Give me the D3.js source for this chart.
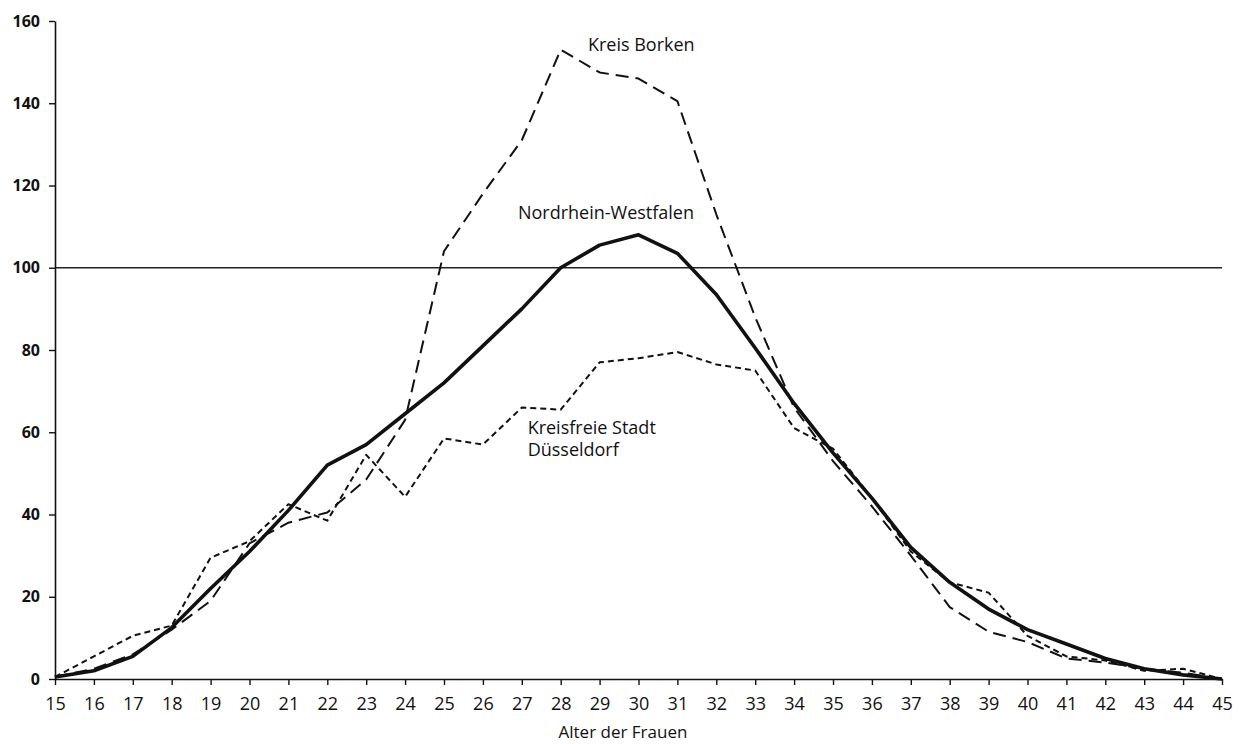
<!DOCTYPE html>
<html>
<head>
<meta charset="utf-8">
<script src="https://cdn.jsdelivr.net/npm/d3@7"></script>
<style>
  body { margin: 0; background: #fff; }
  text { font-family: "Open Sans", "Noto Sans", sans-serif; fill: #111; }
</style>
</head>
<body>
<script>
'use strict';

// Alter der Frauen
const ages = d3.range(15, 46);
const yTicks = [0, 20, 40, 60, 80, 100, 120, 140, 160];

const nrw = [0.5, 2, 5.5, 12.5, 22, 31, 41, 52, 57, 64.5, 72, 81, 90, 100, 105.5, 108,
  103.5, 93.5, 80.5, 67, 55, 44, 32, 23.5, 17, 12, 8.5, 5, 2.5, 1, 0];
const borken = [0.5, 2.5, 6, 12, 19, 33, 38, 40.5, 48.5, 63, 104, 118, 131, 153, 147.5, 146,
  140.5, 113, 88, 66, 53, 42, 30, 17.5, 11.5, 9, 5, 4, 2.5, 1.5, 0];
const duesseldorf = [0.5, 5.5, 10.5, 13, 29.5, 33.5, 42.5, 38.5, 54.5, 44.3, 58.5, 57, 66, 65.5, 77, 78,
  79.5, 76.5, 75, 61, 56, 44, 31, 23.5, 21, 10.5, 5.5, 4.5, 2, 2.5, 0];

const series = [
  {name: "Kreis Borken", values: borken, width: 2, dash: "13,7"},
  {name: "Kreisfreie Stadt Düsseldorf", values: duesseldorf, width: 2, dash: "6,4"},
  {name: "Nordrhein-Westfalen", values: nrw, width: 3.6, dash: null}
];

const labels = [
  {lines: ["Kreis Borken"], age: 28.7, value: 154},
  {lines: ["Nordrhein-Westfalen"], age: 26.9, value: 113},
  {lines: ["Kreisfreie Stadt", "Düsseldorf"], age: 27.15, value: 60.8}
];

const width = 1241, height = 744;
const margin = {top: 21, right: 19, bottom: 65, left: 55};

const svg = d3.select("body").append("svg")
  .attr("width", width)
  .attr("height", height);

const x = d3.scaleLinear()
  .domain([15, 45])
  .range([margin.left, width - margin.right]);

const y = d3.scaleLinear()
  .domain([0, 160])
  .range([height - margin.bottom, margin.top]);

// Bezugslinie bei 100
svg.append("line")
  .attr("x1", x(15)).attr("x2", x(45))
  .attr("y1", y(100)).attr("y2", y(100))
  .attr("stroke", "#222").attr("stroke-width", 1.3);

const yAxis = svg.append("g")
  .attr("transform", "translate(" + margin.left + ",0)")
  .call(d3.axisLeft(y).tickValues(yTicks).tickSize(6).tickPadding(9).tickSizeOuter(0));

const xAxis = svg.append("g")
  .attr("transform", "translate(0," + y(0) + ")")
  .call(d3.axisBottom(x).tickValues(ages).tickSize(6).tickPadding(12).tickSizeOuter(0));

[yAxis, xAxis].forEach(function(a) {
  a.select(".domain").attr("stroke", "#111").attr("stroke-width", 1.6);
  a.selectAll(".tick line").attr("stroke", "#111").attr("stroke-width", 1.4);
  a.selectAll("text").attr("fill", "#111");
});
yAxis.selectAll("text")
  .attr("font-family", "DejaVu Sans, sans-serif")
  .attr("font-weight", "bold")
  .attr("font-size", 16);
xAxis.selectAll("text")
  .attr("font-family", "'DejaVu Sans Condensed', 'Liberation Sans Narrow', sans-serif")
  .attr("font-size", 18);

svg.append("text")
  .attr("x", x(29.6))
  .attr("y", 738)
  .attr("text-anchor", "middle")
  .attr("font-size", 17)
  .text("Alter der Frauen");

const line = d3.line()
  .x(function(d, i) { return x(ages[i]); })
  .y(function(d) { return y(d); });

svg.append("g")
  .selectAll("path")
  .data(series)
  .enter().append("path")
    .attr("d", function(d) { return line(d.values); })
    .attr("fill", "none")
    .attr("stroke", "#111")
    .attr("stroke-width", function(d) { return d.width; })
    .attr("stroke-dasharray", function(d) { return d.dash; })
    .attr("stroke-linejoin", "round");

const lab = svg.append("g")
  .selectAll("text")
  .data(labels)
  .enter().append("text")
    .attr("x", function(d) { return x(d.age); })
    .attr("y", function(d) { return y(d.value); })
    .attr("dominant-baseline", "middle")
    .attr("font-size", 18);

lab.selectAll("tspan")
  .data(function(d) { return d.lines.map(function(t) { return {t: t, x: x(d.age)}; }); })
  .enter().append("tspan")
    .attr("x", function(d) { return d.x; })
    .attr("dy", function(d, i) { return i === 0 ? 0 : 22; })
    .text(function(d) { return d.t; });
</script>
</body>
</html>
